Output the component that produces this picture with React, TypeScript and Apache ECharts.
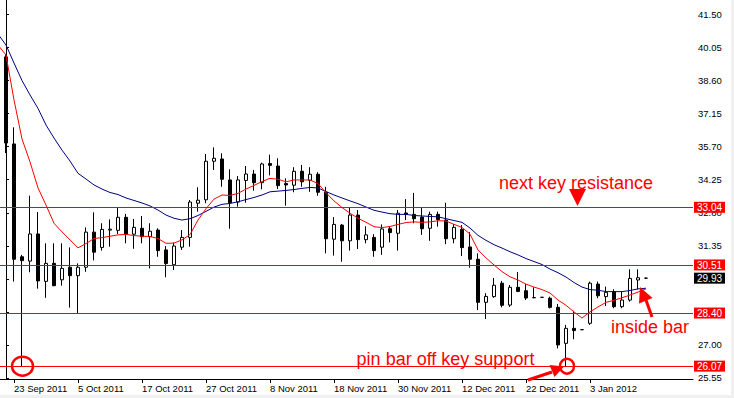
import React, { useEffect, useRef } from "react";
import * as echarts from "echarts";

const barDates = [
  "22 Sep 2011","23 Sep 2011","26 Sep 2011","27 Sep 2011","28 Sep 2011","29 Sep 2011","30 Sep 2011",
  "3 Oct 2011","4 Oct 2011","5 Oct 2011","6 Oct 2011","7 Oct 2011","10 Oct 2011","11 Oct 2011","12 Oct 2011","13 Oct 2011","14 Oct 2011","17 Oct 2011","18 Oct 2011","19 Oct 2011","20 Oct 2011","21 Oct 2011","24 Oct 2011","25 Oct 2011","26 Oct 2011","27 Oct 2011","28 Oct 2011","31 Oct 2011",
  "1 Nov 2011","2 Nov 2011","3 Nov 2011","4 Nov 2011","7 Nov 2011","8 Nov 2011","9 Nov 2011","10 Nov 2011","11 Nov 2011","14 Nov 2011","15 Nov 2011","16 Nov 2011","17 Nov 2011","18 Nov 2011","21 Nov 2011","22 Nov 2011","23 Nov 2011","24 Nov 2011","25 Nov 2011","28 Nov 2011","29 Nov 2011","30 Nov 2011",
  "1 Dec 2011","2 Dec 2011","5 Dec 2011","6 Dec 2011","7 Dec 2011","8 Dec 2011","9 Dec 2011","12 Dec 2011","13 Dec 2011","14 Dec 2011","15 Dec 2011","16 Dec 2011","19 Dec 2011","20 Dec 2011","21 Dec 2011","22 Dec 2011","23 Dec 2011","26 Dec 2011","27 Dec 2011","28 Dec 2011","29 Dec 2011","30 Dec 2011",
  "2 Jan 2012","3 Jan 2012","4 Jan 2012","5 Jan 2012","6 Jan 2012","9 Jan 2012","10 Jan 2012","11 Jan 2012","12 Jan 2012"
];

const dateTickBars = [1, 9, 17, 25, 33, 41, 49, 57, 65, 73];

const opens = [
  39.64, 35.82, 30.87, 30.68, 31.87, 29.79, 30.58, 29.86, 30.41, 30.04,
  30.41, 31.95, 31.28, 32.04, 32.03, 32.60, 31.86, 32.12, 31.75, 32.04,
  31.17, 30.52, 31.29, 31.72, 33.22, 33.37, 35.06, 35.16, 34.24, 33.27,
  34.22, 34.50, 34.12, 34.96, 34.85, 34.08, 34.01, 34.62, 34.22, 34.49,
  33.70, 31.64, 32.26, 31.57, 32.70, 31.62, 31.72, 31.29, 32.10, 31.90,
  32.79, 32.73, 32.61, 32.12, 32.73, 32.48, 31.66, 32.07, 31.30, 30.76,
  28.87, 29.12, 29.71, 28.75, 29.53, 29.38, 29.08, 29.09, 29.05, 28.65,
  27.07, 27.73, 27.67, 27.95, 29.67, 29.12, 29.34, 28.68, 28.97, 29.85,
  29.93
];
const closes = [
  35.86, 30.76, 30.70, 31.87, 29.81, 30.58, 29.60, 30.36, 30.04, 30.41,
  31.95, 31.07, 32.07, 32.08, 32.60, 31.86, 32.16, 31.75, 31.99, 31.14,
  30.57, 31.34, 31.72, 33.27, 33.35, 35.06, 35.19, 34.27, 33.24, 34.24,
  34.50, 34.12, 34.94, 34.88, 33.99, 34.02, 34.62, 34.16, 34.49, 33.70,
  31.66, 32.29, 31.57, 32.70, 31.62, 31.83, 31.14, 32.09, 31.93, 32.78,
  32.73, 32.54, 32.10, 32.73, 32.50, 31.66, 32.16, 31.27, 30.76, 28.87,
  29.13, 29.62, 28.74, 29.53, 29.35, 29.06, 29.07, 29.09, 28.65, 27.00,
  27.73, 27.63, 27.67, 29.71, 29.16, 29.31, 28.68, 28.97, 29.92, 29.95,
  29.93
];
const lows = [
  35.42, 29.78, 26.07, 30.19, 29.47, 29.07, 29.58, 29.60, 28.64, 28.39,
  30.21, 30.71, 31.14, 31.31, 31.87, 31.46, 31.22, 31.46, 30.36, 30.87,
  29.97, 30.29, 31.17, 31.31, 32.85, 33.22, 34.68, 33.94, 32.10, 33.07,
  33.24, 33.77, 33.83, 34.44, 33.84, 33.11, 33.70, 33.94, 33.72, 33.55,
  31.02, 30.92, 30.65, 31.14, 31.21, 31.46, 30.87, 30.95, 31.50, 31.14,
  32.48, 32.34, 31.83, 31.57, 32.19, 31.42, 31.46, 30.90, 30.39, 28.53,
  28.14, 29.07, 28.65, 28.67, 29.32, 28.97, 29.05, 29.09, 28.60, 26.85,
  26.07, 27.25, 27.67, 27.88, 29.05, 28.71, 28.61, 28.61, 28.90, 29.44,
  29.90
];
const highs = [
  39.77, 36.55, 30.95, 33.55, 32.83, 31.46, 31.46, 31.46, 31.28, 30.58,
  32.16, 32.82, 32.34, 32.51, 33.04, 32.75, 32.53, 32.66, 32.34, 32.12,
  31.34, 31.49, 32.04, 33.36, 33.92, 35.38, 35.67, 35.41, 34.71, 34.41,
  34.85, 34.68, 35.00, 35.35, 35.19, 34.31, 34.80, 34.90, 34.80, 34.58,
  33.94, 32.61, 32.31, 33.02, 32.92, 32.21, 31.86, 32.29, 32.22, 32.92,
  33.40, 33.67, 33.04, 32.85, 32.85, 33.24, 32.31, 32.26, 31.95, 31.02,
  29.27, 29.94, 29.81, 29.63, 30.20, 29.67, 29.53, 29.09, 29.12, 28.80,
  27.88, 28.50, 27.67, 29.78, 29.78, 29.56, 29.44, 29.34, 30.32, 30.32,
  29.96
];

// moving averages, first value belongs to the bar before 22 Sep 2011
const maFirstBar = -1;
const maFast = [
  40.16, 39.72, 37.75, 36.04, 35.03, 33.89, 33.14, 32.34, 31.96, 31.61,
  31.26, 31.45, 31.67, 31.71, 31.77, 31.83, 31.85, 31.80, 31.77, 31.76,
  31.67, 31.46, 31.47, 31.61, 31.84, 32.48, 32.98, 33.40, 33.58, 33.56,
  33.65, 33.84, 34.00, 34.17, 34.31, 34.27, 34.16, 34.24, 34.24, 34.24,
  34.08, 33.68, 33.32, 33.03, 32.78, 32.56, 32.38, 32.19, 32.15, 32.20,
  32.29, 32.37, 32.40, 32.38, 32.40, 32.45, 32.44, 32.29, 32.16, 31.86,
  31.17, 30.82, 30.51, 30.22, 29.99, 29.85, 29.67, 29.54, 29.43, 29.28,
  28.97, 28.74, 28.45, 28.18, 28.45, 28.67, 28.87, 28.96, 29.07, 29.19,
  29.32, 29.46
];
const maSlow = [
  40.64, 40.16, 39.37, 38.60, 37.97, 37.38, 36.65, 36.08, 35.55, 35.07,
  34.53, 34.28, 34.02, 33.84, 33.69, 33.60, 33.45, 33.34, 33.23, 33.10,
  32.92, 32.70, 32.56, 32.48, 32.54, 32.68, 32.86, 33.05, 33.17, 33.21,
  33.28, 33.38, 33.47, 33.58, 33.72, 33.75, 33.78, 33.82, 33.87, 33.91,
  33.89, 33.73, 33.58, 33.45, 33.32, 33.20, 33.05, 32.91, 32.83, 32.76,
  32.73, 32.73, 32.68, 32.66, 32.64, 32.62, 32.54, 32.46, 32.38, 32.13,
  31.81, 31.59, 31.40, 31.25, 31.09, 30.95, 30.79, 30.66, 30.53, 30.33,
  30.17, 29.98, 29.74, 29.54, 29.43, 29.40, 29.34, 29.34, 29.34, 29.39,
  29.46, 29.49
];

const priceTicks = [25.55, 27.0, 28.45, 29.9, 31.35, 32.8, 34.25, 35.7, 37.15, 38.6, 40.05, 41.5];
const keyLevels = [26.07, 28.4, 30.51, 33.04];
const lastPrice = 29.93;
// circled pin bars: [bar index, price]
const circledBars = [[2, 26.07], [70, 26.07]];

const FONT = "'Liberation Sans', Arial, sans-serif";
const RED = "#ff0000";
const Y_MIN = 25.506;
const Y_MAX = 42.136;

export default function App() {
  const ref = useRef<HTMLDivElement>(null);
  useEffect(() => {
    const chart = echarts.init(ref.current!, null, { renderer: "svg" });
    const candleData = opens.map((o, i) => [i, o, closes[i], lows[i], highs[i]]);
    const fastData = maFast.map((v, k) => [k + maFirstBar, v]);
    const slowData = maSlow.map((v, k) => [k + maFirstBar, v]);
    const boxValues = [...keyLevels, lastPrice].sort((a, b) => a - b);
    const boxStyle = { color: "#ffffff", fontSize: 10, fontFamily: FONT, padding: [1, 3, 0, 3], lineHeight: 11 };

    chart.setOption({
      animation: false,
      backgroundColor: "#ffffff",
      grid: { left: 0, top: 0, width: 693, height: 379, containLabel: false, outerBoundsMode: "none" },
      xAxis: {
        type: "value",
        min: -0.75,
        max: 85.875,
        axisLine: { show: true, onZero: false, lineStyle: { color: "#000", width: 1 } },
        axisTick: { show: true, length: 4, customValues: dateTickBars, lineStyle: { color: "#000" } },
        axisLabel: {
          customValues: dateTickBars,
          formatter: (v: number) => barDates[Math.round(v)] || "",
          align: "left",
          margin: 4,
          color: "#000",
          fontSize: 9.5,
          fontFamily: FONT,
        },
        splitLine: { show: false },
      },
      yAxis: [
        {
          type: "value",
          position: "right",
          min: Y_MIN,
          max: Y_MAX,
          z: 1,
          axisLine: { show: true, lineStyle: { color: "#000", width: 1 } },
          axisTick: { show: true, length: 3, customValues: priceTicks, lineStyle: { color: "#000" } },
          axisLabel: {
            customValues: priceTicks,
            formatter: (v: number) => v.toFixed(2),
            margin: 5,
            color: "#000",
            fontSize: 9.5,
            fontFamily: FONT,
          },
          splitLine: { show: false },
        },
        {
          type: "value",
          position: "right",
          min: Y_MIN,
          max: Y_MAX,
          z: 5,
          axisLine: { show: false },
          axisTick: { show: false, customValues: keyLevels },
          splitLine: { show: true, lineStyle: { color: RED, width: 1, type: "solid" } },
          axisLabel: {
            customValues: boxValues,
            margin: 1,
            formatter: (v: number) =>
              Math.abs(v - lastPrice) < 1e-6 ? `{k|${v.toFixed(2)}}` : `{r|${v.toFixed(2)}}`,
            rich: {
              r: { ...boxStyle, backgroundColor: RED },
              k: { ...boxStyle, backgroundColor: "#000000" },
            },
          },
        },
      ],
      series: [
        {
          type: "candlestick",
          data: candleData,
          encode: { x: 0, y: [1, 2, 3, 4] },
          barWidth: 4,
          itemStyle: {
            color: "#ffffff",
            color0: "#000000",
            borderColor: "#000000",
            borderColor0: "#000000",
            borderColorDoji: "#000000",
            borderWidth: 1,
          },
          z: 2,
        },
        {
          type: "line",
          data: slowData,
          symbol: "none",
          showSymbol: false,
          color: "#000080",
          lineStyle: { color: "#000080", width: 1 },
          z: 3,
        },
        {
          type: "line",
          data: fastData,
          symbol: "none",
          showSymbol: false,
          color: RED,
          lineStyle: { color: RED, width: 1 },
          z: 4,
        },
      ],
    });

    const circ = circledBars.map(([i, p]) => chart.convertToPixel({ gridIndex: 0 }, [i, p]) as number[]);

    chart.setOption({
      graphic: {
        elements: [
          { type: "rect", silent: true, shape: { x: 731, y: 0, width: 3, height: 398 }, style: { fill: "#f0f0f0" } },
          { type: "rect", silent: true, shape: { x: 0, y: 395, width: 734, height: 3 }, style: { fill: "#f0f0f0" } },
          {
            type: "ellipse",
            silent: true,
            z: 10,
            shape: { cx: circ[0][0] + 0.5, cy: circ[0][1], rx: 10.5, ry: 9.5 },
            style: { fill: "none", stroke: RED, lineWidth: 2.5 },
          },
          {
            type: "ellipse",
            silent: true,
            z: 10,
            shape: { cx: circ[1][0] + 1, cy: circ[1][1], rx: 7, ry: 7.5 },
            style: { fill: "none", stroke: RED, lineWidth: 2.5 },
          },
          {
            type: "text",
            silent: true,
            z: 10,
            style: { text: "next key resistance", x: 576, y: 182.8, fill: RED, font: `18px ${FONT}`, align: "center", verticalAlign: "middle" },
          },
          {
            type: "polygon",
            silent: true,
            z: 10,
            shape: { points: [[569, 189], [586, 189], [577.5, 206]] },
            style: { fill: RED },
          },
          {
            type: "text",
            silent: true,
            z: 10,
            style: { text: "inside bar", x: 650, y: 326.5, fill: RED, font: `18px ${FONT}`, align: "center", verticalAlign: "middle" },
          },
          {
            type: "line",
            silent: true,
            z: 10,
            shape: { x1: 652, y1: 317, x2: 646, y2: 300 },
            style: { stroke: RED, lineWidth: 3 },
          },
          {
            type: "polygon",
            silent: true,
            z: 10,
            shape: { points: [[640, 287], [652.5, 298], [639, 303.5]] },
            style: { fill: RED },
          },
          {
            type: "text",
            silent: true,
            z: 10,
            style: { text: "pin bar off key support", x: 445.5, y: 358.8, fill: RED, font: `18px ${FONT}`, align: "center", verticalAlign: "middle" },
          },
          {
            type: "line",
            silent: true,
            z: 10,
            shape: { x1: 528, y1: 380, x2: 552, y2: 372 },
            style: { stroke: RED, lineWidth: 3 },
          },
          {
            type: "polygon",
            silent: true,
            z: 10,
            shape: { points: [[564, 366.5], [549.5, 365], [554.5, 377]] },
            style: { fill: RED },
          },
        ],
      },
    });

    return () => chart.dispose();
  }, []);
  return (
    <div
      ref={ref}
      style={{ position: "absolute", left: 0, top: 0, width: 734, height: 398, background: "#ffffff" }}
    />
  );
}
